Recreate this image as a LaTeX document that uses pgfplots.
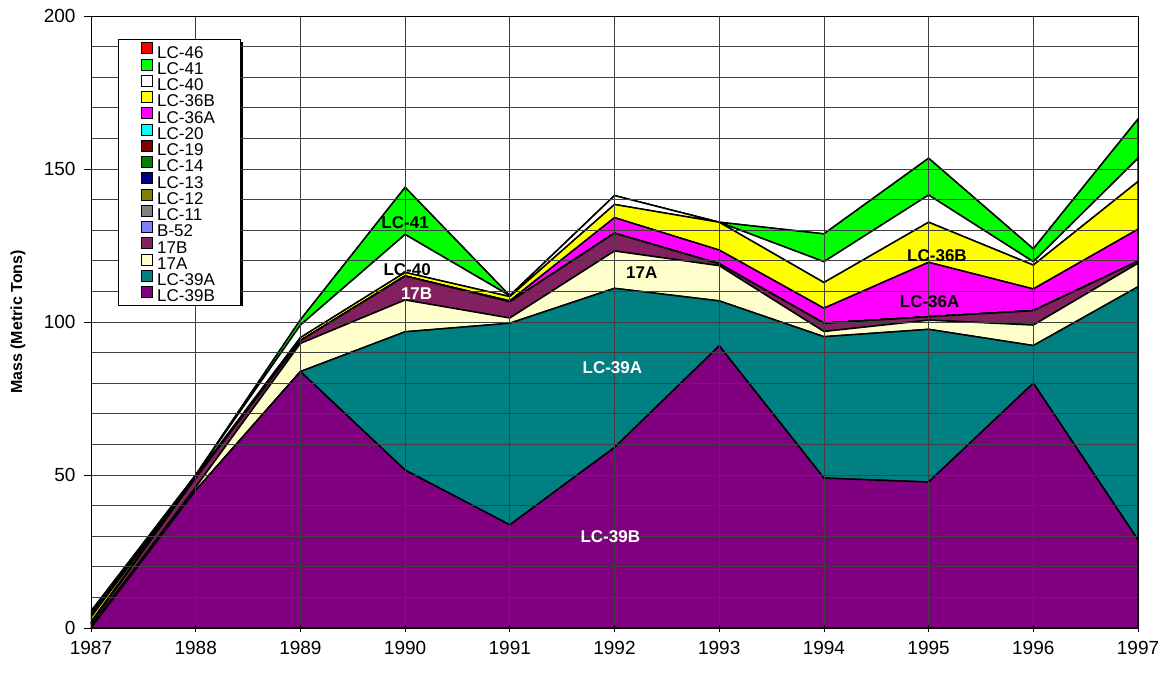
\documentclass[border=0pt]{standalone}
\usepackage{fontspec}
\setmainfont{Liberation Sans}
\usepackage{pgfplots}
\pgfplotsset{compat=1.18}
\definecolor{cLCfortysix}{HTML}{FF0000}
\definecolor{cLCfortyone}{HTML}{00FF00}
\definecolor{cLCforty}{HTML}{FFFFFF}
\definecolor{cLCthirtysixB}{HTML}{FFFF00}
\definecolor{cLCthirtysixA}{HTML}{FF00FF}
\definecolor{cLCtwenty}{HTML}{00FFFF}
\definecolor{cLCnineteen}{HTML}{800000}
\definecolor{cLCfourteen}{HTML}{008000}
\definecolor{cLCthirteen}{HTML}{000080}
\definecolor{cLCtwelve}{HTML}{808000}
\definecolor{cLCeleven}{HTML}{808080}
\definecolor{cBfiftytwo}{HTML}{8080FF}
\definecolor{cSeventeenB}{HTML}{822060}
\definecolor{cSeventeenA}{HTML}{FFFFCC}
\definecolor{cLCthirtynineA}{HTML}{008080}
\definecolor{cLCthirtynineB}{HTML}{800080}
\tikzset{lbl/.style={font=\bfseries\fontsize{17}{17}\selectfont}}
\begin{document}
\begin{tikzpicture}
\begin{axis}[
  at={(0,0)}, anchor=south west, scale only axis,
  width=1047pt, height=612pt,
  xmin=1987, xmax=1997, ymin=0, ymax=200,
  xtick={1987,1988,1989,1990,1991,1992,1993,1994,1995,1996,1997},
  ytick={0,50,100,150,200},
  minor y tick num=4,
  /pgf/number format/1000 sep={},
  /pgf/number format/assume math mode=true,
  tick label style={font=\fontsize{19}{19}\selectfont},
  yticklabel style={xshift=-5pt},
  xticklabel style={yshift=-6pt},
  tick pos=left,
  tick align=outside,
  xtick align=center,
  major tick length=7pt,
  minor tick length=0pt,
  tick style={black, line width=0.8pt},
  grid=both,
  major grid style={black!75, line width=0.8pt},
  minor grid style={black!75, line width=0.8pt},
  axis line style={black, line width=0.8pt},
  ylabel={\bfseries Mass (Metric Tons)},
  ylabel style={at={(axis description cs:-0.0697,0.5)}, anchor=center, font=\fontsize{16}{16}\selectfont},
  stack plots=y,
  area style,
  every axis plot/.append style={draw=black, line width=1.5pt, line join=miter},
  reverse legend,
  legend image code/.code={\draw[#1,draw=black,line width=0.8pt] (0pt,0pt) rectangle (11pt,11pt);},
  legend style={at={(axis description cs:0.0258,0.9624)}, anchor=north west,
    draw=black, line width=0.8pt, fill=white,
    font=\fontsize{17}{17}\selectfont,
    inner xsep=23pt, inner ysep=3pt, row sep=0pt, column sep=2pt,
    nodes={inner ysep=0pt, inner xsep=2pt, text height=9.2pt, text depth=0.5pt, text width=58pt},
    cells={anchor=west}},
  after end axis/.code={
    \node[lbl, text=white] at (axis cs:1991.96,29.7) {LC-39B};
    \node[lbl, text=white] at (axis cs:1991.98,85) {LC-39A};
    \node[lbl, text=black] at (axis cs:1992.26,116) {17A};
    \node[lbl, text=white] at (axis cs:1990.11,109.2) {17B};
    \node[lbl, text=black] at (axis cs:1990.02,117) {LC-40};
    \node[lbl, text=black] at (axis cs:1990.0,132.4) {LC-41};
    \node[lbl, text=black] at (axis cs:1995.08,121.6) {LC-36B};
    \node[lbl, text=black] at (axis cs:1995.01,106.5) {LC-36A};
  },
]
% LC-39B
\addplot[fill=cLCthirtynineB] coordinates {(1987,0) (1988,45) (1989,83.8) (1990,51.6) (1991,33.7) (1992,59) (1993,92.2) (1994,49) (1995,47.7) (1996,80) (1997,28.8)} \closedcycle;
% LC-39A
\addplot[fill=cLCthirtynineA] coordinates {(1987,0) (1988,0) (1989,0) (1990,45.2) (1991,65.9) (1992,52) (1993,14.7) (1994,46.2) (1995,49.9) (1996,12.3) (1997,82.7)} \closedcycle;
% 17A
\addplot[fill=cSeventeenA] coordinates {(1987,0.5) (1988,1) (1989,9.2) (1990,10.4) (1991,1.7) (1992,12.2) (1993,11.5) (1994,1.7) (1995,3) (1996,6.7) (1997,7.7)} \closedcycle;
% 17B
\addplot[fill=cSeventeenB] coordinates {(1987,1) (1988,3) (1989,0.9) (1990,7.8) (1991,5.3) (1992,5.8) (1993,0.6) (1994,2.7) (1995,1.1) (1996,4.7) (1997,0.6)} \closedcycle;
% B-52
\addplot[fill=cBfiftytwo] coordinates {(1987,0) (1988,0) (1989,0) (1990,0) (1991,0) (1992,0) (1993,0) (1994,0) (1995,0) (1996,0) (1997,0)} \closedcycle;
% LC-11
\addplot[fill=cLCeleven] coordinates {(1987,0) (1988,0) (1989,0) (1990,0) (1991,0) (1992,0) (1993,0) (1994,0) (1995,0) (1996,0) (1997,0)} \closedcycle;
% LC-12
\addplot[fill=cLCtwelve] coordinates {(1987,0) (1988,0) (1989,0) (1990,0) (1991,0) (1992,0) (1993,0) (1994,0) (1995,0) (1996,0) (1997,0)} \closedcycle;
% LC-13
\addplot[fill=cLCthirteen] coordinates {(1987,0) (1988,0) (1989,0) (1990,0) (1991,0) (1992,0) (1993,0) (1994,0) (1995,0) (1996,0) (1997,0)} \closedcycle;
% LC-14
\addplot[fill=cLCfourteen] coordinates {(1987,0) (1988,0) (1989,0) (1990,0) (1991,0) (1992,0) (1993,0) (1994,0) (1995,0) (1996,0) (1997,0)} \closedcycle;
% LC-19
\addplot[fill=cLCnineteen] coordinates {(1987,0) (1988,0) (1989,0) (1990,0) (1991,0) (1992,0) (1993,0) (1994,0) (1995,0) (1996,0) (1997,0)} \closedcycle;
% LC-20
\addplot[fill=cLCtwenty] coordinates {(1987,0) (1988,0) (1989,0) (1990,0) (1991,0) (1992,0) (1993,0) (1994,0) (1995,0) (1996,0) (1997,0)} \closedcycle;
% LC-36A
\addplot[fill=cLCthirtysixA] coordinates {(1987,0.5) (1988,0) (1989,0) (1990,0) (1991,0.3) (1992,5.1) (1993,4.5) (1994,4.9) (1995,17.8) (1996,7.1) (1997,10.5)} \closedcycle;
% LC-36B
\addplot[fill=cLCthirtysixB] coordinates {(1987,1.5) (1988,0.5) (1989,1) (1990,1.2) (1991,1.4) (1992,4.3) (1993,9.1) (1994,8.4) (1995,13.1) (1996,7.8) (1997,15.6)} \closedcycle;
% LC-40
\addplot[fill=cLCforty] coordinates {(1987,1) (1988,0.5) (1989,4.1) (1990,12.4) (1991,0.3) (1992,2.9) (1993,0) (1994,6.8) (1995,8.9) (1996,1.1) (1997,7.6)} \closedcycle;
% LC-41
\addplot[fill=cLCfortyone] coordinates {(1987,1) (1988,0) (1989,1.7) (1990,15.4) (1991,0) (1992,0) (1993,0) (1994,9.1) (1995,12) (1996,4.2) (1997,12.8)} \closedcycle;
% LC-46
\addplot[fill=cLCfortysix] coordinates {(1987,0) (1988,0) (1989,0) (1990,0) (1991,0) (1992,0) (1993,0) (1994,0) (1995,0) (1996,0) (1997,0)} \closedcycle;
\legend{LC-39B,LC-39A,17A,17B,B-52,LC-11,LC-12,LC-13,LC-14,LC-19,LC-20,LC-36A,LC-36B,LC-40,LC-41,LC-46}
\fill[black] (axis description cs:0.02865,0.95752) rectangle (axis description cs:0.14518,0.52614);
\end{axis}
\path (-91pt,-44pt) rectangle (1076pt,628pt);
\end{tikzpicture}
\end{document}
